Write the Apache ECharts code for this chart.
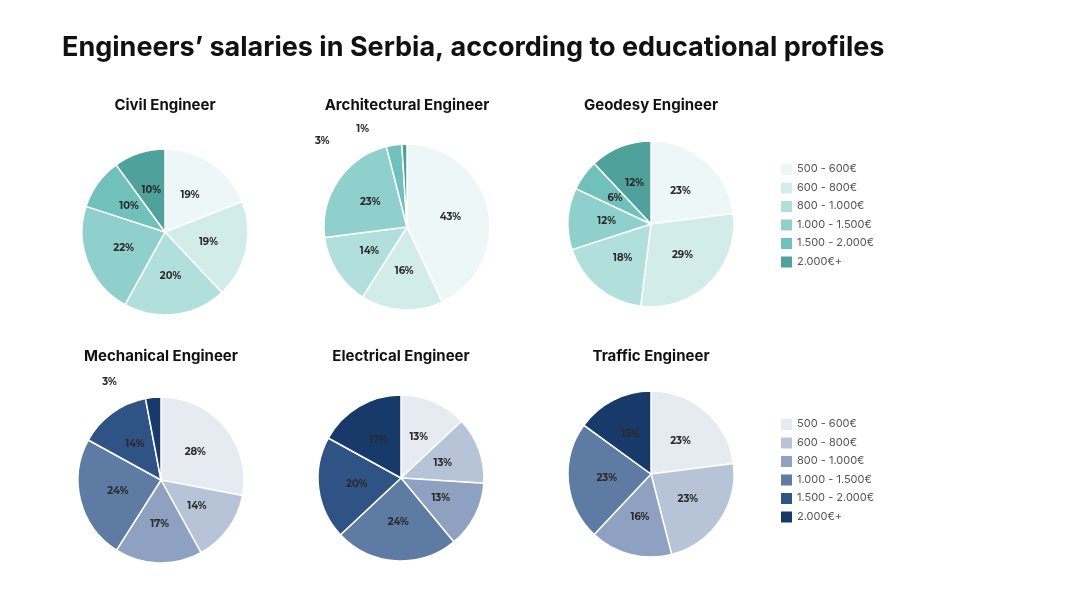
<!DOCTYPE html><html><head><meta charset="utf-8">
<script src="https://cdn.jsdelivr.net/npm/echarts@6/dist/echarts.min.js"></script>
<style>html,body{margin:0;background:#fff}#c{width:1080px;height:608px}</style></head><body><div id="c"></div>
<script>
const categories=['500 - 600€','600 - 800€','800 - 1.000€','1.000 - 1.500€','1.500 - 2.000€','2.000€+'];
const civil=[19,19,20,22,10,10];
const architectural=[43,16,14,23,3,1];
const geodesy=[23,29,18,12,6,12];
const mechanical=[28,14,17,24,14,3];
const electrical=[13,13,13,24,20,17];
const traffic=[23,23,16,23,0,15];
const teal=['#eef7f7','#d2ecea','#b1dfdc','#8fd0cc','#70c0bb','#4fa19b'];
const blue=['#e6eaf1','#b7c4d8','#8ea1c0','#5e7ba3','#2f5385','#173a6b'];
const pies=[
 {t:'Civil Engineer',d:civil,c:teal,x:165,y:232},
 {t:'Architectural Engineer',d:architectural,c:teal,x:407,y:227},
 {t:'Geodesy Engineer',d:geodesy,c:teal,x:651,y:224},
 {t:'Mechanical Engineer',d:mechanical,c:blue,x:161,y:480},
 {t:'Electrical Engineer',d:electrical,c:blue,x:401,y:478},
 {t:'Traffic Engineer',d:traffic,c:blue,x:651,y:474}];
const tY=[105,105,105,356,356,356];
const series=pies.map(p=>({type:'pie',center:[p.x,p.y],radius:[0,83],startAngle:90,silent:true,
 itemStyle:{borderColor:'#fff',borderWidth:1.5},labelLine:{show:false},
 data:p.d.map((v,i)=>({name:categories[i],value:v,itemStyle:{color:p.c[i]},
  label:{show:v>0,position:v<=5?'outside':'inside',distance:4,formatter:'{c}%',color:'#2a2a2a',fontSize:10,fontWeight:'bold',fontFamily:'Montserrat, Inter, sans-serif'}}))}));
const graphic=[{type:'text',left:62,top:34,style:{text:'Engineers’ salaries in Serbia, according to educational profiles',font:'bold 27px Inter, sans-serif',fill:'#111'}}];
pies.forEach((p,i)=>graphic.push({type:'text',x:p.x,y:tY[i],style:{text:p.t,font:'bold 15px Inter, sans-serif',fill:'#111',textAlign:'center',textVerticalAlign:'middle'}}));
[[169,teal],[424,blue]].forEach(([y0,col])=>categories.forEach((c,i)=>{
 graphic.push({type:'rect',shape:{x:781,y:y0+i*18.5-5,width:11,height:11},style:{fill:col[i]}});
 graphic.push({type:'text',x:797,y:y0+i*18.5,style:{text:c,font:'11px Inter, sans-serif',fill:'#555',textVerticalAlign:'middle'}});
}));
const ch=echarts.init(document.getElementById('c'));
ch.setOption({animation:false,series,graphic});
</script></body></html>
